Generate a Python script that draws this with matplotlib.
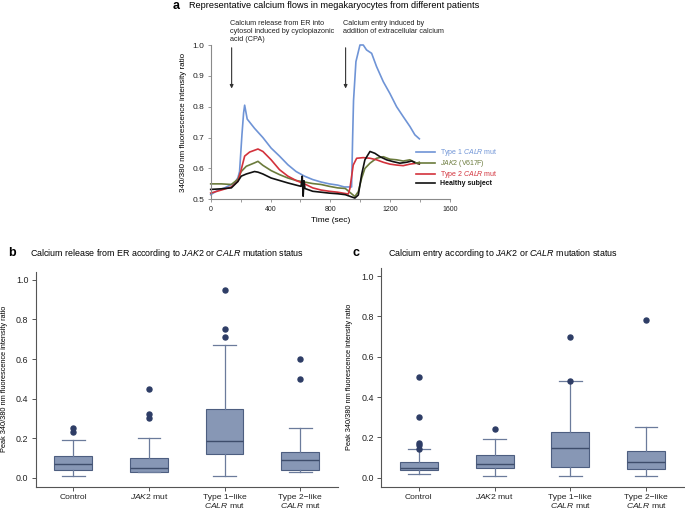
import matplotlib
matplotlib.use("Agg")
import matplotlib.pyplot as plt
import matplotlib.transforms as mtransforms

plt.rcParams['font.family'] = ['Liberation Sans', 'DejaVu Sans']
plt.rcParams['mathtext.fontset'] = 'custom'
plt.rcParams['mathtext.rm'] = 'Liberation Sans'
plt.rcParams['mathtext.it'] = 'Liberation Sans:italic'
plt.rcParams['mathtext.bf'] = 'Liberation Sans:bold'

# ---- panel a : calcium traces ----
t_type1 = [0, 50, 93, 160, 182, 193, 209, 220, 227, 244, 293, 349, 404, 460, 516, 571, 627,
           682, 738, 793, 849, 893, 942, 949, 955, 971, 998, 1020, 1042, 1076, 1109, 1154,
           1198, 1243, 1287, 1332, 1365, 1395]
v_type1 = [0.515, 0.53, 0.537, 0.553, 0.57, 0.59, 0.71, 0.78, 0.805, 0.76, 0.73, 0.70, 0.666,
           0.64, 0.612, 0.59, 0.575, 0.564, 0.556, 0.55, 0.546, 0.54, 0.54, 0.70, 0.82, 0.946,
           1.0, 1.0, 0.984, 0.973, 0.93, 0.881, 0.843, 0.80, 0.768, 0.736, 0.709, 0.696]

t_jak2 = [0, 71, 138, 182, 204, 238, 293, 316, 349, 404, 460, 516, 571, 627, 682, 738, 793,
          849, 900, 964, 987, 1009, 1031, 1065, 1109, 1154, 1198, 1243, 1287, 1332, 1376, 1395]
v_jak2 = [0.55, 0.55, 0.548, 0.565, 0.59, 0.607, 0.618, 0.623, 0.61, 0.593, 0.58, 0.569, 0.561,
          0.556, 0.551, 0.548, 0.542, 0.537, 0.535, 0.509, 0.525, 0.568, 0.60, 0.617, 0.633,
          0.638, 0.63, 0.628, 0.624, 0.628, 0.617, 0.62]

t_type2 = [0, 71, 138, 182, 204, 227, 260, 316, 349, 404, 460, 516, 571, 627, 682, 738, 793,
           849, 920, 931, 953, 976, 1020, 1065, 1109, 1154, 1198, 1243, 1287, 1332, 1376, 1395]
v_type2 = [0.52, 0.53, 0.54, 0.558, 0.596, 0.64, 0.653, 0.663, 0.655, 0.628, 0.596, 0.575,
           0.561, 0.55, 0.537, 0.53, 0.526, 0.523, 0.517, 0.536, 0.611, 0.633, 0.635, 0.633,
           0.628, 0.62, 0.614, 0.611, 0.609, 0.614, 0.617, 0.615]

t_healthy = [0, 71, 138, 182, 204, 238, 293, 316, 349, 404, 460, 516, 571, 604, 612, 618, 624,
             630, 682, 738, 793, 849, 900, 964, 987, 1009, 1031, 1065, 1098, 1132, 1176, 1220,
             1265, 1310, 1343, 1376, 1395]
v_healthy = [0.532, 0.534, 0.537, 0.558, 0.575, 0.582, 0.59, 0.588, 0.582, 0.569, 0.561, 0.553,
             0.546, 0.542, 0.575, 0.51, 0.56, 0.535, 0.526, 0.523, 0.52, 0.518, 0.515, 0.504,
             0.514, 0.58, 0.628, 0.655, 0.649, 0.638, 0.628, 0.622, 0.617, 0.62, 0.624, 0.617,
             0.615]

trace_labels = [r"Type 1 $\it{CALR}$ mut", r"$\it{JAK2}$ (V617F)", r"Type 2 $\it{CALR}$ mut",
                "Healthy subject"]
trace_colors = ['#6f94d6', '#6b7b3c', '#d3323c', '#111111']

# ---- panels b, c : box plot summaries ----
groups = ["Control", r"$\it{JAK2}$ mut", "Type 1\u2212like\n$\\it{CALR}$ mut",
          "Type 2\u2212like\n$\\it{CALR}$ mut"]

rel_q1 = [0.04, 0.03, 0.12, 0.04]
rel_med = [0.07, 0.05, 0.185, 0.09]
rel_q3 = [0.11, 0.10, 0.35, 0.13]
rel_lo = [0.01, 0.03, 0.01, 0.03]
rel_hi = [0.19, 0.20, 0.67, 0.25]
rel_out = [[0.23, 0.25], [0.30, 0.32, 0.45], [0.71, 0.75, 0.95], [0.50, 0.60]]

ent_q1 = [0.04, 0.05, 0.055, 0.045]
ent_med = [0.048, 0.07, 0.145, 0.08]
ent_q3 = [0.08, 0.11, 0.225, 0.13]
ent_lo = [0.02, 0.01, 0.01, 0.01]
ent_hi = [0.14, 0.19, 0.48, 0.25]
ent_out = [[0.14, 0.16, 0.17, 0.30, 0.50], [0.24], [0.48, 0.70], [0.78]]

W, H = 685, 511
fig = plt.figure(figsize=(W / 100, H / 100), dpi=100)


def fx(px):
    return px / W


def fy(py):
    return 1 - py / H


# ================= panel a =================
ax = fig.add_axes([fx(210.7), fy(199.3), fx(450) - fx(210.7), fy(45) - fy(199.3)])
series = [(t_type1, v_type1), (t_jak2, v_jak2), (t_type2, v_type2), (t_healthy, v_healthy)]
for (t, v), lab, col in zip(series, trace_labels, trace_colors):
    ax.plot(t, v, color=col, lw=1.2, label=lab, clip_on=False)
ax.set_xlim(0, 1600)
ax.set_ylim(0.5, 1.0)
ax.set_xticks(range(0, 1601, 400))
ax.set_xticks(range(0, 1601, 200), minor=True)
ax.set_yticks([0.5, 0.6, 0.7, 0.8, 0.9, 1.0])
ax.set_yticklabels(['0.5', '0.6', '0.7', '0.8', '0.9', '1.0'])
for s in ['top', 'right']:
    ax.spines[s].set_visible(False)
for s in ['left', 'bottom']:
    ax.spines[s].set_color('#8a8a8a')
    ax.spines[s].set_linewidth(0.8)
ax.tick_params(axis='both', which='both', length=2.5, width=0.6, color='#8a8a8a',
               labelcolor='#222222')
ax.tick_params(axis='x', labelsize=5, pad=2)
ax.tick_params(axis='y', labelsize=6, pad=2)
ax.set_xlabel("Time (sec)", fontsize=6, labelpad=3)
ax.set_ylabel("340/380 nm fluorescence intensity ratio", fontsize=5.8, labelpad=4)

leg = ax.legend(frameon=False, fontsize=5, loc='upper left',
                bbox_to_anchor=(fx(416), fy(147)), bbox_transform=fig.transFigure,
                handlelength=2.8, handletextpad=0.7, labelspacing=0.0, borderpad=0,
                borderaxespad=0)
for txt, col in zip(leg.get_texts(), trace_colors):
    txt.set_color(col)
leg.get_texts()[3].set_fontweight('bold')

# arrows + notes
arrow_kw = dict(arrowstyle='-|>', color='#333333', lw=0.8, mutation_scale=5)
ax.annotate('', xy=(140, 0.85), xytext=(140, 1.0), arrowprops=arrow_kw, annotation_clip=False)
ax.annotate('', xy=(902, 0.85), xytext=(902, 1.0), arrowprops=arrow_kw, annotation_clip=False)
fig.text(fx(230), fy(20), "Calcium release from ER into\ncytosol induced by cyclopiazonic\nacid (CPA)",
         fontsize=5.2, va='top', ha='left', linespacing=1.2, color='#222222')
fig.text(fx(343), fy(20), "Calcium entry induced by\naddition of extracellular calcium",
         fontsize=5.2, va='top', ha='left', linespacing=1.2, color='#222222')

fig.text(fx(173), fy(6), "a", fontsize=9, fontweight='bold', va='center', ha='left')
fig.text(fx(189), fy(6), "Representative calcium flows in megakaryocytes from different patients",
         fontsize=6.6, va='center', ha='left')

# ================= panels b, c =================
box_face = '#8797b5'
box_edge = '#4d5e80'
whisk_col = '#6b7b9b'
flier_col = '#2e3d66'


def draw_box(rect, q1, med, q3, lo, hi, out):
    bx = fig.add_axes(rect)
    stats = []
    for i in range(len(groups)):
        stats.append(dict(q1=q1[i], med=med[i], q3=q3[i], whislo=lo[i], whishi=hi[i],
                          fliers=out[i]))
    bx.bxp(stats, positions=[1, 2, 3, 4], widths=0.5, capwidths=0.3, patch_artist=True,
           showfliers=True,
           boxprops=dict(facecolor=box_face, edgecolor=box_edge, linewidth=0.8),
           medianprops=dict(color='#3e4d6b', linewidth=1.0),
           whiskerprops=dict(color=whisk_col, linewidth=0.9),
           capprops=dict(color=whisk_col, linewidth=0.9),
           flierprops=dict(marker='o', markerfacecolor=flier_col, markeredgecolor=flier_col,
                           markersize=3.6))
    bx.set_xlim(0.5, 4.5)
    bx.set_ylim(-0.045, 1.04)
    bx.set_yticks([0.0, 0.2, 0.4, 0.6, 0.8, 1.0])
    bx.set_yticklabels(['0.0', '0.2', '0.4', '0.6', '0.8', '1.0'])
    bx.set_xticks([1, 2, 3, 4])
    bx.set_xticklabels([])
    # category names, one text per line so the baselines line up
    trans = mtransforms.blended_transform_factory(bx.transData, fig.transFigure)
    for i, g in enumerate(groups):
        for k, part in enumerate(g.split('\n')):
            bx.text(i + 1, fy(498.5 + 9.8 * k), part, transform=trans, ha='center',
                    va='baseline', fontsize=6.1, color='#222222')
    for s in ['top', 'right']:
        bx.spines[s].set_visible(False)
    for s in ['left', 'bottom']:
        bx.spines[s].set_color('#555555')
        bx.spines[s].set_linewidth(0.8)
    bx.tick_params(axis='both', length=3, width=0.7, color='#555555', labelcolor='#222222',
                   labelsize=6.4, pad=2)
    bx.set_ylabel("Peak 340/380 nm fluorescence intensity ratio", fontsize=5.3, labelpad=6)
    return bx


axb = draw_box([fx(35.5), fy(486.7), fx(338) - fx(35.5), fy(272) - fy(486.7)],
               rel_q1, rel_med, rel_q3, rel_lo, rel_hi, rel_out)
axc = draw_box([fx(381), fy(486.7), fx(684) - fx(381), fy(268) - fy(486.7)],
               ent_q1, ent_med, ent_q3, ent_lo, ent_hi, ent_out)

fig.text(fx(8), fy(253), "b", fontsize=9, fontweight='bold', va='center', ha='left')
fig.text(fx(30), fy(253),
         r"Calcium release from ER according to $\it{JAK2}$ or $\it{CALR}$ mutation status",
         fontsize=6.4, va='center', ha='left')
fig.text(fx(353), fy(253), "c", fontsize=9, fontweight='bold', va='center', ha='left')
fig.text(fx(388), fy(253),
         r"Calcium entry according to $\it{JAK2}$ or $\it{CALR}$ mutation status",
         fontsize=6.4, va='center', ha='left')

fig.savefig("out.png", dpi=100)
